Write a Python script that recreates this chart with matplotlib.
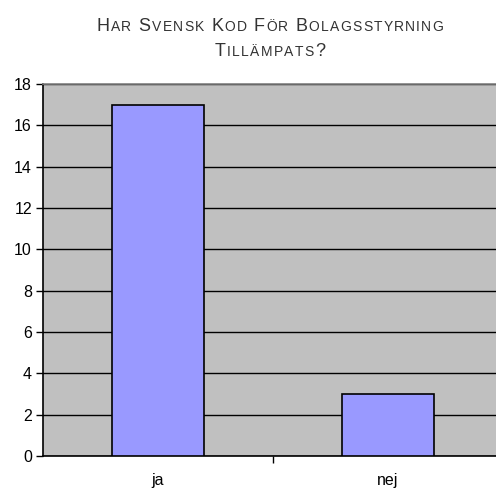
import numpy as np
import matplotlib
matplotlib.use("Agg")
import matplotlib.pyplot as plt
from matplotlib.offsetbox import TextArea, HPacker, VPacker, AnchoredOffsetbox

categories = ["ja", "nej"]
values = [17, 3]
title_lines = ["Har Svensk Kod För Bolagsstyrning", "Tillämpats?"]
yticks = np.arange(0, 19, 2)

plt.rcParams['font.family'] = ['Liberation Sans', 'DejaVu Sans']

fig = plt.figure(figsize=(4.96, 4.90), dpi=100)
ax = fig.add_axes([43 / 496, 34 / 490, 460 / 496, 372 / 490])
ax.set_facecolor('#C0C0C0')

x = np.arange(len(categories))
ax.bar(x, values, width=0.4, color='#9999FF', edgecolor='black', linewidth=1.2, zorder=3)

ax.set_xlim(-0.5, 1.5)
ax.set_ylim(0, 18)
ax.set_yticks(yticks)
ax.tick_params(axis='y', labelsize=11.5, length=5, width=1, direction='out', pad=3)
ax.set_xticks([0.5])
ax.set_xticklabels([''])
ax.set_xticks(x, minor=True)
ax.set_xticklabels(categories, minor=True)
ax.tick_params(axis='x', which='major', length=5, width=1, direction='out')
ax.tick_params(axis='x', which='minor', length=0, labelsize=11.5, pad=12.5)
ax.yaxis.grid(True, color='black', linewidth=1, zorder=1)
ax.set_axisbelow(True)
ax.spines['top'].set_color('#808080')
ax.spines['top'].set_linewidth(1.2)
ax.spines['right'].set_visible(False)
ax.spines['left'].set_linewidth(1.2)
ax.spines['bottom'].set_linewidth(1.2)


# small caps title
def smallcaps_line(text):
    parts = []
    for w_i, word in enumerate(text.split(' ')):
        if w_i > 0:
            parts.append(TextArea(' ', textprops=dict(fontsize=12.5, color='#333333')))
        for ch in word:
            if ch.isupper() or not ch.isalpha():
                parts.append(TextArea(ch, textprops=dict(fontsize=13, color='#333333')))
            else:
                parts.append(TextArea(ch.upper(), textprops=dict(fontsize=10, color='#333333')))
    return HPacker(children=parts, align='baseline', pad=0, sep=0.9)


lines = [smallcaps_line(t) for t in title_lines]
box = VPacker(children=lines, align='center', pad=0, sep=6)
anch = AnchoredOffsetbox(loc='upper center', child=box, frameon=False,
                         bbox_to_anchor=(270 / 496, 1 - 12 / 490),
                         bbox_transform=fig.transFigure, borderpad=0)
fig.add_artist(anch)

fig.savefig('out.png', dpi=100)
